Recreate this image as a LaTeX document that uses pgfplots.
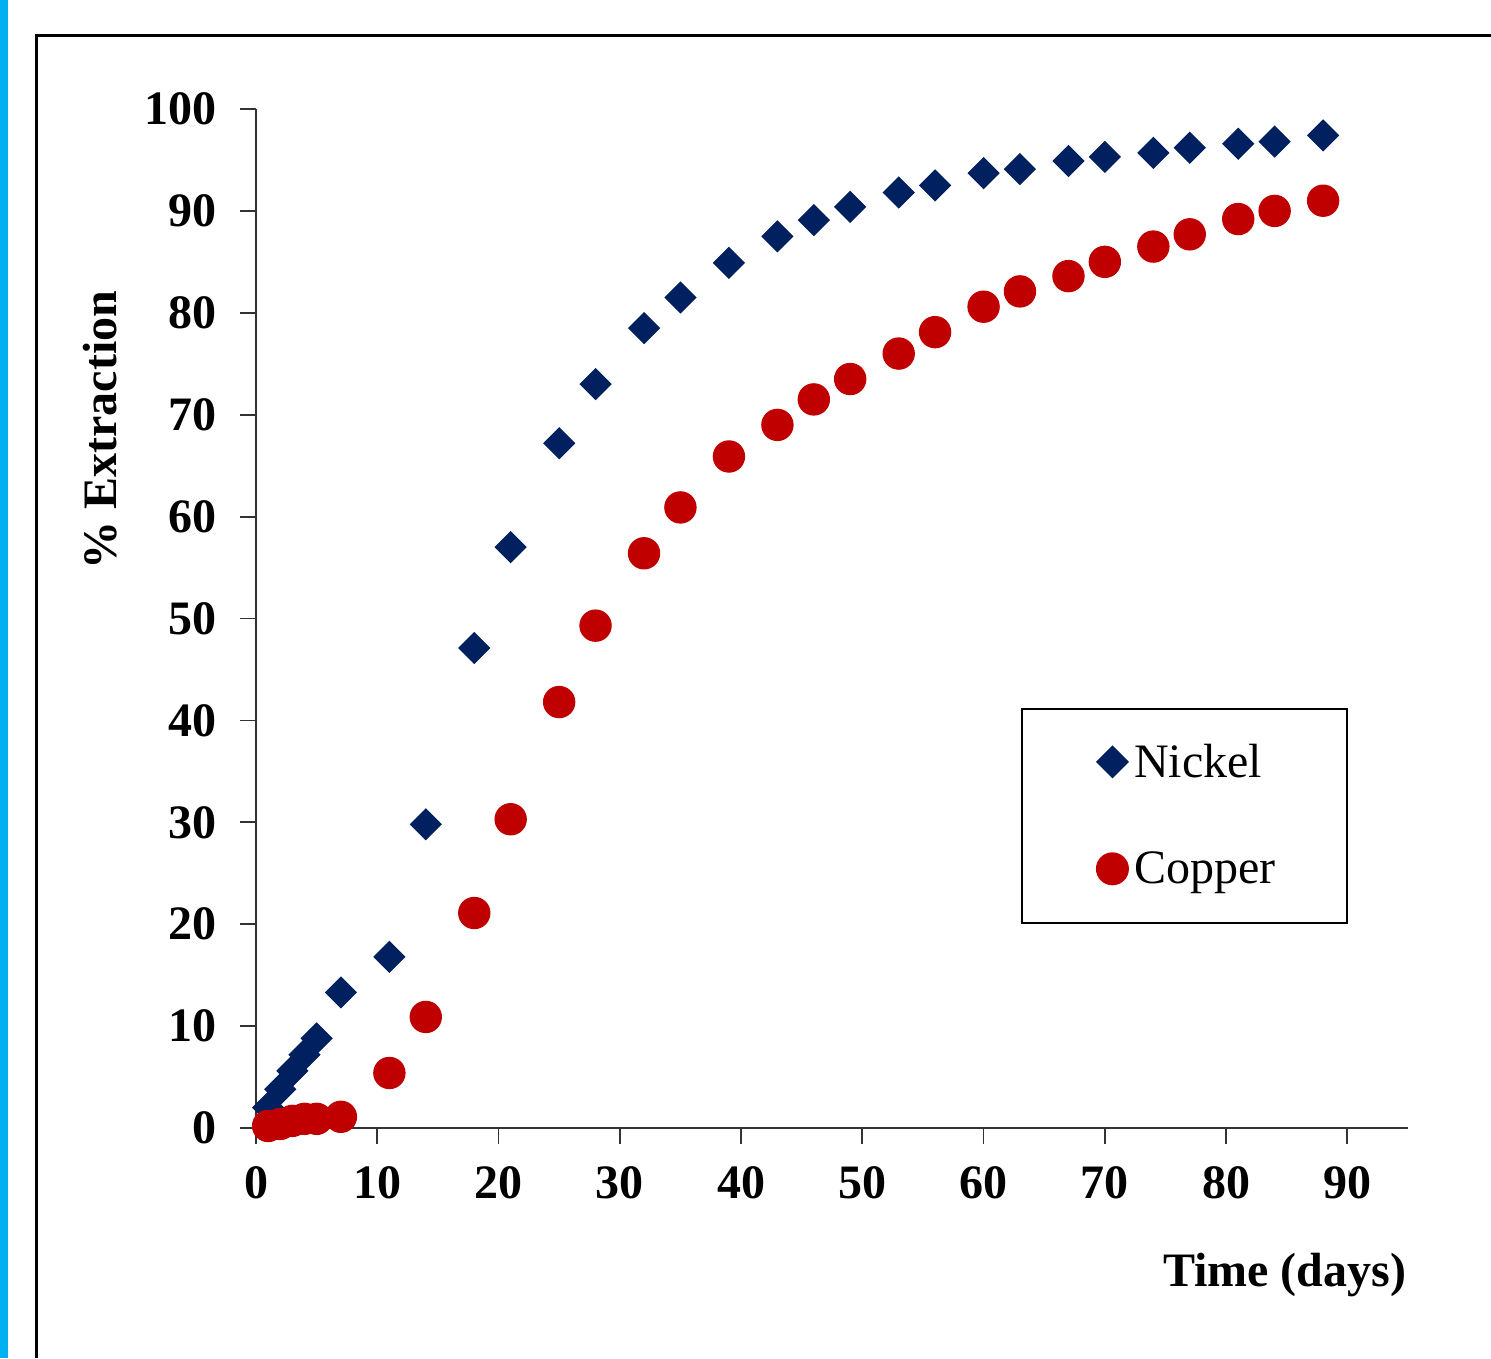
\documentclass[border=0pt]{standalone}
\usepackage{fontspec}
\setmainfont{Liberation Serif}
\usepackage{pgfplots}
\usepackage{pgfplotstable}
\pgfplotsset{compat=1.18}
\definecolor{nickel}{HTML}{002060}
\definecolor{copper}{HTML}{C00000}
\definecolor{edgebar}{HTML}{00B0F0}

% day, % extraction
\pgfplotstableread{
day ext
1 2.0
2 3.8
3 5.6
4 7.2
5 8.8
7 13.3
11 16.8
14 29.8
18 47.1
21 57.0
25 67.2
28 73.0
32 78.5
35 81.5
39 84.9
43 87.5
46 89.1
49 90.4
53 91.8
56 92.5
60 93.7
63 94.1
67 94.9
70 95.3
74 95.7
77 96.2
81 96.6
84 96.8
88 97.4
}\nickeldata

\pgfplotstableread{
day ext
1 0.2
2 0.4
3 0.7
4 0.9
5 0.9
7 1.1
11 5.4
14 10.9
18 21.1
21 30.3
25 41.8
28 49.3
32 56.4
35 60.9
39 65.9
43 69.0
46 71.5
49 73.5
53 76.0
56 78.1
60 80.6
63 82.1
67 83.6
70 85.0
74 86.5
77 87.7
81 89.2
84 90.0
88 91.0
}\copperdata

\begin{document}
\begin{tikzpicture}
\useasboundingbox (0,0) rectangle (497pt,452.667pt);
\fill[edgebar] (0,0) rectangle (2.667pt,452.667pt);
\draw[line width=1pt] (497pt,440.667pt) -- (12pt,440.667pt) -- (12pt,0pt);
\begin{axis}[
    at={(85.333pt,76.667pt)}, anchor=south west,
    scale only axis,
    width=384pt, height=339.667pt,
    xmin=0, xmax=95, ymin=0, ymax=100,
    axis x line=bottom, axis y line=left,
    axis line style={-, line width=0.6pt, black!80},
    xtick={0,10,...,90}, ytick={0,10,...,100},
    tick align=outside, major tick length=5.33pt,
    tick style={line width=0.6pt, black!80},
    /pgf/number format/assume math mode=true,
    ticklabel style={font=\fontsize{16}{19}\selectfont\bfseries},
    yticklabel style={xshift=-4.3pt},
    xticklabel style={yshift=-4pt},
    xlabel={Time (days)}, ylabel={\% Extraction},
    label style={font=\fontsize{16}{19}\selectfont\bfseries},
    xlabel style={at={(rel axis cs:0.893,-0.144)}, anchor=center},
    ylabel style={at={(rel axis cs:-0.1354,0.685)}, anchor=center, rotate=0},
    clip=false,
    legend style={at={(rel axis cs:0.664,0.412)}, anchor=north west,
        draw=black, line width=0.6pt, inner xsep=22pt, inner ysep=9.6pt,
        row sep=19.3pt, nodes={inner sep=2pt},
        font=\fontsize{16}{19}\selectfont},
    legend cell align=left,
    legend image code/.code={\path (-7.9pt,0.3pt);\draw[#1] plot coordinates {(0pt,0.3pt)};},
]
\addplot[only marks, mark=square*, mark size=3.6pt, mark options={rotate=45, fill=nickel, draw=nickel}, color=nickel]
    table[x=day, y=ext] {\nickeldata};
\addlegendentry{Nickel}
\addplot[only marks, mark=*, mark size=5.2pt, mark options={fill=copper, draw=copper}, color=copper]
    table[x=day, y=ext] {\copperdata};
\addlegendentry{Copper}
\end{axis}
\end{tikzpicture}
\end{document}
